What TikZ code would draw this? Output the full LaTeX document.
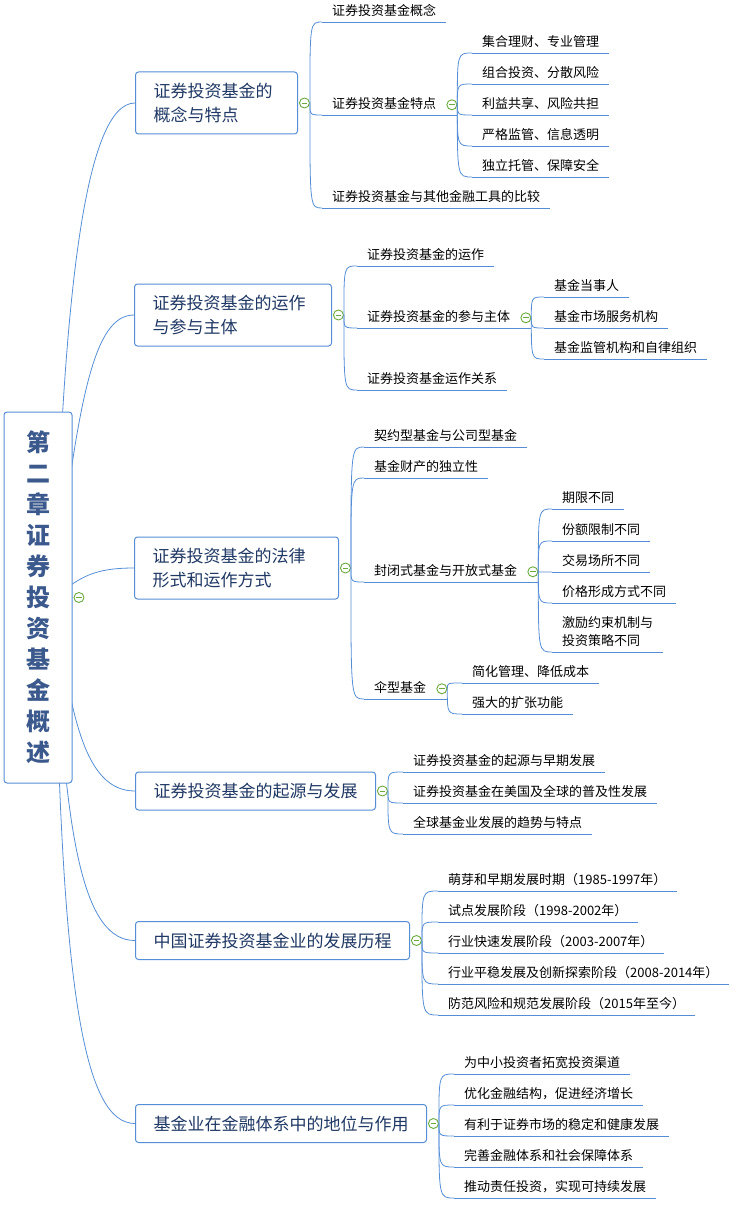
\documentclass[tikz,border=0pt]{standalone}
\usepackage{fontspec}
\setmainfont{Noto Sans CJK SC}
\usetikzlibrary{positioning,backgrounds}
\definecolor{linkblue}{RGB}{85,142,213}
\definecolor{topicnavy}{RGB}{31,56,100}
\definecolor{rootblue}{RGB}{59,89,140}
\definecolor{foldgreen}{RGB}{106,170,60}
\newcommand{\leaffont}{\fontsize{13}{18}\selectfont}
\newcommand{\topicfont}{\fontsize{17}{24}\selectfont}
\newcommand{\rootfont}{\fontsize{24}{31}\selectfont\bfseries}

\begin{document}
\begin{tikzpicture}[x=1pt, y=-1pt]
\useasboundingbox (0,0) rectangle (736,1206);
\tikzstyle{branch} = [draw=linkblue, line width=0.8pt]
\tikzstyle{spine} = [branch, to path={.. controls (\tikztostart |- \tikztotarget) .. (\tikztotarget)}]
\tikzstyle{rootbox} = [draw=linkblue, line width=1pt, rounded corners=3pt, fill=white, font=\rootfont, text=rootblue, align=center, minimum width=68pt, minimum height=371pt]
\tikzstyle{topic} = [draw=linkblue, line width=1pt, rounded corners=3pt, fill=white, font=\topicfont, text=topicnavy, align=left, inner xsep=18pt, anchor=west, minimum height=38pt]
\tikzstyle{leaf} = [font=\leaffont, inner xsep=10pt, inner ysep=3pt, text depth=3pt, anchor=south west, align=left]
\tikzstyle{fold} = [circle, draw=foldgreen, line width=0.9pt, fill=white, minimum size=10pt, inner sep=0pt, path picture={\draw[foldgreen, line width=0.9pt] ([xshift=-2.8pt]path picture bounding box.center) -- ([xshift=2.8pt]path picture bounding box.center);}]

% Root topic
\node[rootbox] (root) at (38,597.5) {第\\二\\章\\证\\券\\投\\资\\基\\金\\概\\述};
\node[fold, right=1pt of root] (rootc) {};
\coordinate (rc) at (55,597);

% Main topics
\node[topic, text width=126pt, minimum height=62pt] (n1) at (135,103) {证券投资基金的\\概念与特点};
\node[topic, text width=161pt, minimum height=62pt] (n2) at (134,315) {证券投资基金的运作\\与参与主体};
\node[topic, text width=168pt, minimum height=62pt] (n3) at (134,568) {证券投资基金的法律\\形式和运作方式};
\node[topic] (n4) at (135,791) {证券投资基金的起源与发展};
\node[topic] (n5) at (135,940.5) {中国证券投资基金业的发展历程};
\node[topic] (n6) at (135,1123.5) {基金业在金融体系中的地位与作用};

\foreach \n in {n1,n2,n3,n4,n5,n6}
  \node[fold, right=1pt of \n] (\n c) {};

% Curves from the root
\begin{pgfonlayer}{background}
\draw[branch] (rc) .. controls +(8,-300) and +(-50,0) .. (n1.west);
\draw[branch] (rc) .. controls +(23,-200) and +(-40,0) .. (n2.west);
\draw[branch] (rc) .. controls +(25,-20) and +(-40,0) .. (n3.west);
\draw[branch] (rc) .. controls +(15,120) and +(-50,0) .. (n4.west);
\draw[branch] (rc) .. controls +(8,250) and +(-50,0) .. (n5.west);
\draw[branch] (rc) .. controls +(5,400) and +(-50,0) .. (n6.west);
\end{pgfonlayer}

% Concept and features
\node[leaf] (a1) at (322,22) {证券投资基金概念};
\node[leaf] (a2) at (322,115) {证券投资基金特点};
\node[leaf] (a3) at (322,208) {证券投资基金与其他金融工具的比较};
\node[fold, right=0pt of a2] (a2c) {};
\node[leaf] (b1) at (472,53) {集合理财、专业管理};
\node[leaf] (b2) at (472,84) {组合投资、分散风险};
\node[leaf] (b3) at (472,115) {利益共享、风险共担};
\node[leaf] (b4) at (472,146) {严格监管、信息透明};
\node[leaf] (b5) at (472,177) {独立托管、保障安全};

% Operation and participants
\node[leaf] (c1) at (357,266) {证券投资基金的运作};
\node[leaf] (c2) at (357,328) {证券投资基金的参与主体};
\node[leaf] (c3) at (357,390) {证券投资基金运作关系};
\node[fold, right=0pt of c2] (c2c) {};
\node[leaf] (p1) at (544,297) {基金当事人};
\node[leaf] (p2) at (544,328) {基金市场服务机构};
\node[leaf] (p3) at (544,359) {基金监管机构和自律组织};

% Legal forms and operation modes
\node[leaf] (d1) at (364,447) {契约型基金与公司型基金};
\node[leaf] (d2) at (364,478) {基金财产的独立性};
\node[leaf] (d3) at (364,582) {封闭式基金与开放式基金};
\node[leaf] (d4) at (364,699) {伞型基金};
\node[fold, right=0pt of d3] (d3c) {};
\node[fold, right=0pt of d4] (d4c) {};
\node[leaf] (q1) at (552,509) {期限不同};
\node[leaf] (q2) at (552,541) {份额限制不同};
\node[leaf] (q3) at (552,572) {交易场所不同};
\node[leaf] (q4) at (552,603) {价格形成方式不同};
\node[leaf] (q5) at (552,652) {激励约束机制与\\投资策略不同};
\node[leaf] (u1) at (462,683) {简化管理、降低成本};
\node[leaf] (u2) at (462,714) {强大的扩张功能};

% Origin and development
\node[leaf] (g1) at (403,772) {证券投资基金的起源与早期发展};
\node[leaf] (g2) at (403,803) {证券投资基金在美国及全球的普及性发展};
\node[leaf] (g3) at (403,834) {全球基金业发展的趋势与特点};

% History in China
\node[leaf] (h1) at (438,891) {萌芽和早期发展时期（1985-1997年）};
\node[leaf] (h2) at (438,922) {试点发展阶段（1998-2002年）};
\node[leaf] (h3) at (438,953) {行业快速发展阶段（2003-2007年）};
\node[leaf] (h4) at (438,984) {行业平稳发展及创新探索阶段（2008-2014年）};
\node[leaf] (h5) at (438,1015) {防范风险和规范发展阶段（2015年至今）};

% Position and role
\node[leaf] (k1) at (454,1074) {为中小投资者拓宽投资渠道};
\node[leaf] (k2) at (454,1105) {优化金融结构，促进经济增长};
\node[leaf] (k3) at (454,1136) {有利于证券市场的稳定和健康发展};
\node[leaf] (k4) at (454,1167) {完善金融体系和社会保障体系};
\node[leaf] (k5) at (454,1198) {推动责任投资，实现可持续发展};

% Underlines
\foreach \t in {a1,a3,b1,b2,b3,b4,b5,c1,c3,p1,p2,p3,d1,d2,q1,q2,q3,q4,q5,u1,u2,g1,g2,g3,h1,h2,h3,h4,h5,k1,k2,k3,k4,k5}
  \draw[branch] (\t.south west) -- (\t.south east);
\foreach \t in {a2,c2,d3,d4}
  \draw[branch] (\t.south west) -- (\t c.east |- \t.south);

% Branch curves
\foreach \c/\t in {n1c/a1,n1c/a2,n1c/a3,a2c/b1,a2c/b2,a2c/b3,a2c/b4,a2c/b5,
  n2c/c1,n2c/c2,n2c/c3,c2c/p1,c2c/p2,c2c/p3,
  n3c/d1,n3c/d2,n3c/d3,n3c/d4,d3c/q1,d3c/q2,d3c/q3,d3c/q4,d3c/q5,d4c/u1,d4c/u2,
  n4c/g1,n4c/g2,n4c/g3,n5c/h1,n5c/h2,n5c/h3,n5c/h4,n5c/h5,
  n6c/k1,n6c/k2,n6c/k3,n6c/k4,n6c/k5}
  \draw[spine] (\c.east) to (\t.south west);

\end{tikzpicture}
\end{document}
